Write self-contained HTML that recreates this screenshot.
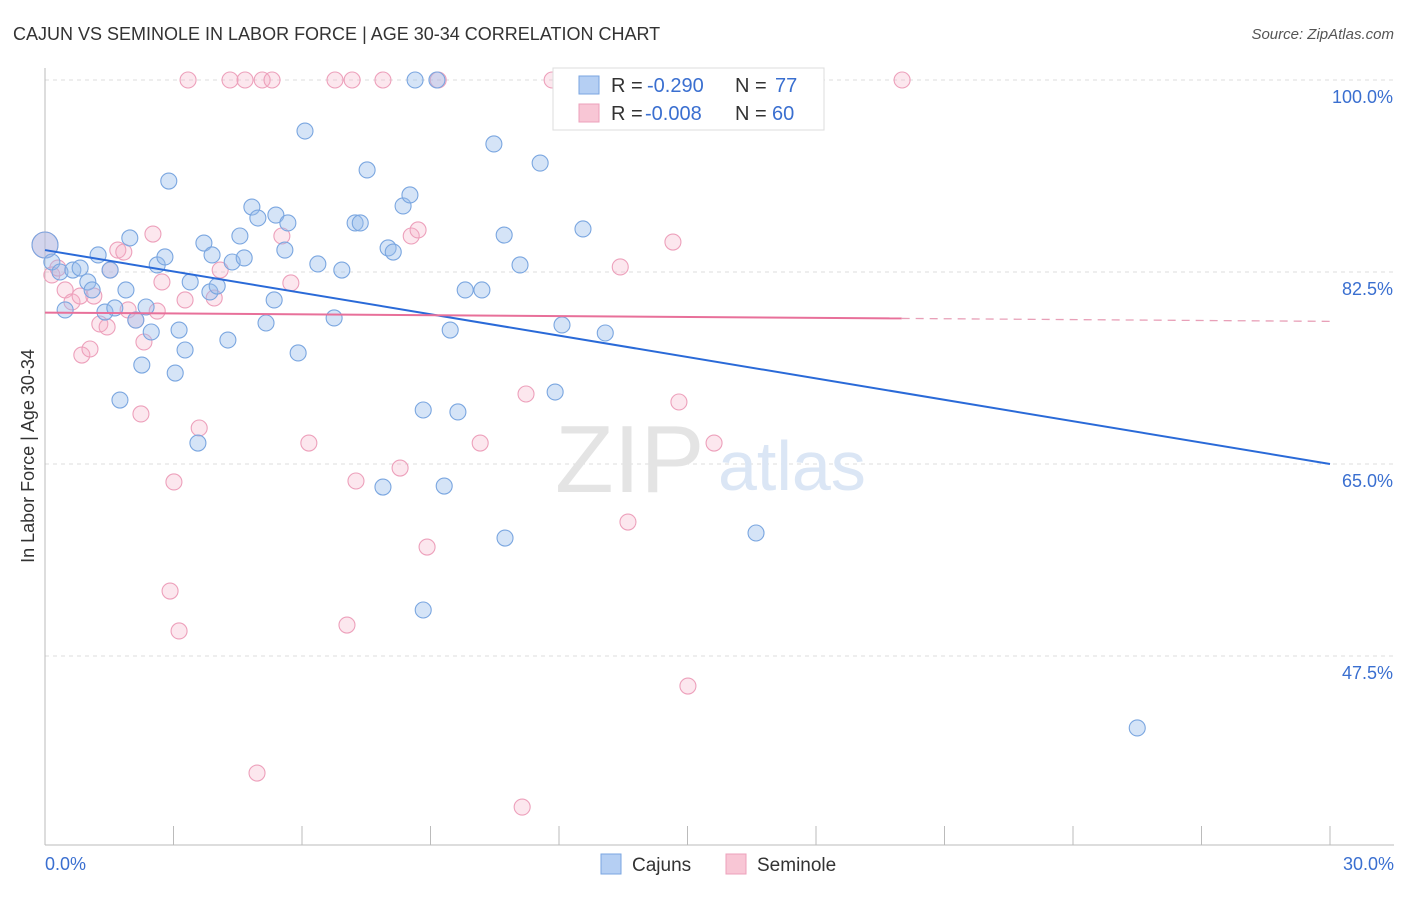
<!DOCTYPE html>
<html><head><meta charset="utf-8"><style>
body{margin:0;background:#fff;font-family:"Liberation Sans",sans-serif}
svg text{font-family:"Liberation Sans",sans-serif}
</style></head><body>
<svg id="chart" width="1406" height="892" xmlns="http://www.w3.org/2000/svg">
<text x="13" y="40" font-size="18" fill="#333">CAJUN VS SEMINOLE IN LABOR FORCE | AGE 30-34 CORRELATION CHART</text>
<text x="1394" y="39" font-size="15" fill="#555" text-anchor="end" font-style="italic">Source: ZipAtlas.com</text>
<g id="grid"></g>
<g id="axes"></g>
<text x="555" y="492" font-size="96" fill="#e4e4e4" font-family="Liberation Serif">ZIP</text>
<text x="718" y="490" font-size="70" fill="#dbe6f5">atlas</text>
<g id="marks"></g>
<g>
<rect x="553" y="68" width="271" height="62" fill="#fff" stroke="#ddd"/>
<rect x="579" y="76" width="20" height="18" fill="#b5cff3" stroke="#7aa6e0"/>
<rect x="579" y="104" width="20" height="18" fill="#f8c6d5" stroke="#eda0bb"/>
<text x="611" y="92" font-size="20" fill="#333">R =</text>
<text x="647" y="92" font-size="20" fill="#3a6fd0">-0.290</text>
<text x="735" y="92" font-size="20" fill="#333">N =</text>
<text x="775" y="92" font-size="20" fill="#3a6fd0">77</text>
<text x="611" y="120" font-size="20" fill="#333">R =</text>
<text x="645" y="120" font-size="20" fill="#3a6fd0">-0.008</text>
<text x="735" y="120" font-size="20" fill="#333">N =</text>
<text x="772" y="120" font-size="20" fill="#3a6fd0">60</text>
</g>
<g>
<rect x="601" y="854" width="20" height="20" fill="#b5cff3" stroke="#7aa6e0"/>
<text x="632" y="871" font-size="19" fill="#333">Cajuns</text>
<rect x="726" y="854" width="20" height="20" fill="#f8c6d5" stroke="#eda0bb"/>
<text x="757" y="871" font-size="19" fill="#333">Seminole</text>
</g>
<text x="34" y="456" font-size="18" fill="#333" transform="rotate(-90 34 456)" text-anchor="middle">In Labor Force | Age 30-34</text>
</svg>
<script>
const yTicks=[100,82.5,65,47.5];
const yTickLabels=["100.0%","82.5%","65.0%","47.5%"];
const xTickLabels=["0.0%","30.0%"];
const cajunX=[0,0.16,0.35,0.47,0.65,0.82,1.00,1.10,1.24,1.40,1.52,1.63,1.89,1.98,2.12,2.26,2.36,2.48,2.62,2.80,2.89,3.04,3.13,3.27,3.39,3.57,3.71,3.85,3.90,4.02,4.27,4.37,4.55,4.65,4.83,4.97,5.16,5.35,5.39,5.60,5.67,5.91,6.07,6.37,6.75,6.93,7.24,7.36,7.52,7.89,8.01,8.13,8.36,8.52,8.64,8.83,8.83,9.15,9.32,9.46,9.64,9.81,10.20,10.48,10.72,10.74,11.09,11.56,11.91,12.07,12.24,12.56,13.08,16.60,25.50,1.75];
const cajunY=[84.96,83.41,82.50,79.04,82.68,82.86,81.59,80.86,84.05,78.85,82.68,79.22,80.86,85.60,78.12,74.02,79.31,77.03,83.14,83.87,90.79,73.29,77.21,75.39,81.59,66.91,85.14,80.68,84.05,81.22,76.30,83.41,85.78,83.78,88.42,87.42,77.85,79.95,87.69,84.50,86.97,75.12,95.35,83.23,78.31,82.68,86.97,86.97,91.80,62.90,84.69,84.32,88.52,89.52,100,69.92,51.69,100,62.99,77.21,69.74,80.86,80.86,94.17,85.87,58.25,83.14,92.43,71.56,77.67,100,86.42,76.94,58.71,40.94,70.83];
const semX=[0,0.16,0.30,0.47,0.63,0.82,0.86,1.05,1.14,1.28,1.45,1.52,1.70,1.84,1.94,2.12,2.24,2.31,2.52,2.62,2.73,2.92,3.01,3.13,3.27,3.34,3.60,3.95,4.09,4.32,4.67,4.95,5.07,5.30,5.53,5.74,6.16,6.77,7.05,7.17,7.26,7.89,8.29,8.55,8.71,8.92,9.18,10.16,11.14,11.23,11.84,13.61,13.43,14.66,14.80,15.01,15.62,16.74,20.01];
const semY=[84.96,82.23,82.86,80.86,79.77,80.31,74.93,75.48,80.31,77.76,77.49,82.68,84.50,84.32,79.04,78.12,69.56,76.12,85.96,78.94,81.59,53.42,63.36,49.78,79.95,100,68.28,80.13,82.68,100,100,36.83,100,100,85.78,81.50,66.91,100,50.32,100,63.45,100,64.63,85.78,86.33,57.43,100,66.91,33.73,71.38,100,59.71,82.96,85.23,70.65,44.76,66.91,100,100];
const cajunTrend=[84.5,65.0];
const semTrend=[78.8,78.0];
const semSolidEnd=20;
const NS="http://www.w3.org/2000/svg";
const X0=45,X1=1330,Y100=80,PXPER=10.971;
const xs=v=>X0+(X1-X0)*v/30;
const ys=v=>Y100+(100-v)*PXPER;
function mk(tag,attrs,parent){const e=document.createElementNS(NS,tag);for(const k in attrs)e.setAttribute(k,attrs[k]);parent.appendChild(e);return e;}
const grid=document.getElementById('grid'),axes=document.getElementById('axes'),marks=document.getElementById('marks');
yTicks.forEach((t,i)=>{
 const l=mk('line',{x1:X0,x2:1394,y1:ys(t),y2:ys(t),stroke:'#ddd','stroke-dasharray':'4 4'},grid);
 
 
 const tx=mk('text',{x:1393,y:ys(t)+23,'font-size':18,fill:'#3a6fd0','text-anchor':'end'},axes);
 tx.textContent=yTickLabels[i];
 
 
});
const bl=mk('line',{x1:X0,x2:1394,y1:845,y2:845,stroke:'#bbb'},axes);


const vl=mk('line',{x1:X0,x2:X0,y1:68,y2:845,stroke:'#bbb'},axes);


for(let i=1;i<=10;i++){const t=mk('line',{x1:xs(i*3),x2:xs(i*3),y1:826,y2:845,stroke:'#bbb'},axes);
 
 }
[[0,'start',45],[30,'end',1394]].forEach((d,i)=>{const t=mk('text',{x:d[2],y:870,'font-size':18,fill:'#3a6fd0','text-anchor':d[1]},axes);t.textContent=xTickLabels[i];
 
 });
function pts(X,Y,fill,stroke,name){X.forEach((x,i)=>{const c=mk('circle',{cx:xs(x),cy:ys(Y[i]),r:(x===0?13:8),fill:fill,stroke:stroke,'stroke-width':1.1},marks);
 
 });}
pts(semX,semY,'rgba(246,175,200,0.3)','#eda0bb','seminole-point');
pts(cajunX,cajunY,'rgba(150,188,236,0.4)','#7aa6e0','cajun-point');
const ct=mk('line',{x1:xs(0),y1:ys(cajunTrend[0]),x2:xs(30),y2:ys(cajunTrend[1]),stroke:'#2a6ad8','stroke-width':2},marks);


const sm=v=>semTrend[0]+(semTrend[1]-semTrend[0])*v/30;
const st=mk('line',{x1:xs(0),y1:ys(sm(0)),x2:xs(semSolidEnd),y2:ys(sm(semSolidEnd)),stroke:'#e8709a','stroke-width':2},marks);


const sd=mk('line',{x1:xs(semSolidEnd),y1:ys(sm(semSolidEnd)),x2:xs(30),y2:ys(sm(30)),stroke:'#e8a0b8','stroke-width':1.3,'stroke-dasharray':'8 6'},marks);


</script>
</body></html>
